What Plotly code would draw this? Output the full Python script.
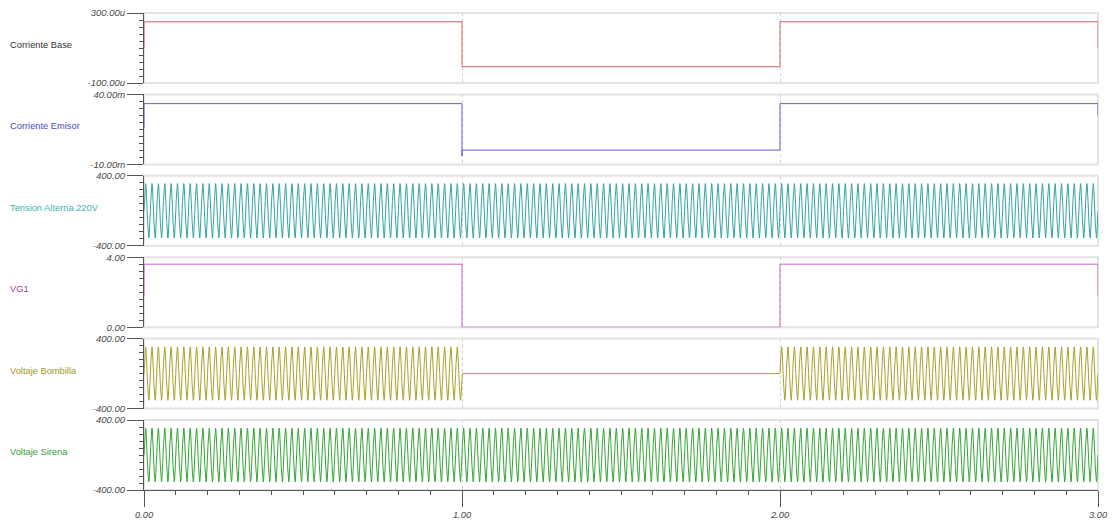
import numpy as np
import plotly.graph_objects as go

# ---------------- data (time in seconds) ----------------
base_t = [0, 0, 1, 1, 2, 2, 3, 3]
base_uA = [100, 250, 250, -7, -7, 250, 250, 100]

emisor_t = [0, 0, 1, 1, 1, 2, 2, 3, 3]
emisor_mA = [16, 33.4, 33.4, -4, 0.2, 0.2, 33.4, 33.4, 25]

vg1_t = [0, 0, 1, 1, 2, 2, 3, 3]
vg1_V = [1.8, 3.6, 3.6, 0, 0, 3.6, 3.6, 1.8]

# one cycle of samples for each AC signal (peaks)
tension_cycle = [0, 119, 220, 287, 311, 287, 220, 119,
                 0, -119, -220, -287, -311, -287, -220, -119]
bombilla_cycle = [0, 117, 216, 282, 305, 282, 216, 117,
                  0, -117, -216, -282, -305, -282, -216, -117]
sirena_cycle = [0, 117, 217, 284, 307, 284, 217, 117,
                0, -117, -217, -284, -307, -284, -217, -117]
cycles_per_second = 50
bombilla_on = [1, 0, 1]          # lamp on / off in each second
duration = 3

labels = ["Corriente Base", "Corriente Emisor", "Tension Alterna 220V",
          "VG1", "Voltaje Bombilla", "Voltaje Sirena"]
y_ranges = [[-100, 300], [-10, 40], [-400, 400], [0, 4], [-400, 400], [-400, 400]]
y_ticktext = [["-100.00u", "300.00u"], ["-10.00m", "40.00m"], ["-400.00", "400.00"],
              ["0.00", "4.00"], ["-400.00", "400.00"], ["-400.00", "400.00"]]
x_tickvals = [0, 1, 2, 3]
x_ticktext = ["0.00", "1.00", "2.00", "3.00"]

label_colors = ["#333333", "#4b4bb5", "#45b0b0", "#a43aa4", "#a09a28", "#35a035"]
line_colors = ["#d06060", "#6060cc", "#35a3a3", "#c565c5", "#a8a22a", "#35a535"]

# ---------------- build AC series ----------------
n_cyc = cycles_per_second * duration
spc = len(tension_cycle)
ac_t = np.linspace(0, duration, n_cyc * spc + 1)
tension = np.append(np.tile(tension_cycle, n_cyc), 0)
sirena = np.append(np.tile(sirena_cycle, n_cyc), 0)
bombilla = np.append(np.concatenate(
    [np.tile(bombilla_cycle, cycles_per_second) * on for on in bombilla_on]), 0)

series = [(base_t, base_uA), (emisor_t, emisor_mA), (ac_t, tension),
          (vg1_t, vg1_V), (ac_t, bombilla), (ac_t, sirena)]

# ---------------- figure ----------------
W, H = 1115, 524
ml, mr, mt, mb = 144, 17, 13, 34
plot_h = H - mt - mb
panel_h = 70 / plot_h
gap = (1 - 6 * panel_h) / 5

FONT = "Liberation Sans, Arial, sans-serif"
AXC = "#555555"
TXT = "#484848"

fig = go.Figure()
layout = dict(
    width=W, height=H, autosize=False,
    margin=dict(l=ml, r=mr, t=mt, b=mb, autoexpand=False),
    paper_bgcolor="white", plot_bgcolor="white",
    showlegend=False,
    font=dict(family=FONT, size=9, color=TXT),
)
shapes = []
annotations = []

for i in range(6):
    k = i + 1
    sfx = "" if k == 1 else str(k)
    top = 1 - i * (panel_h + gap)
    bot = top - panel_h
    lo, hi = y_ranges[i]
    t, v = series[i]
    fig.add_trace(go.Scatter(x=t, y=v, mode="lines", xaxis="x" + sfx, yaxis="y" + sfx,
                             line=dict(color=line_colors[i], width=1), hoverinfo="skip"))

    xa = dict(domain=[0, 1], range=[0, duration], anchor="y" + sfx, automargin=False,
              showgrid=True, griddash="dot", gridcolor="#d2d2d2", gridwidth=1,
              zeroline=False, fixedrange=True)
    if k < 6:
        xa.update(tickvals=[1, 2], showticklabels=False, ticks="", showline=False,
                  matches="x6")
    else:
        xa.update(tickvals=x_tickvals, ticktext=x_ticktext, ticks="outside",
                  ticklen=16, tickcolor=AXC, tickwidth=1,
                  showline=True, linecolor=AXC, linewidth=1,
                  tickfont=dict(family=FONT, size=9.3, color=TXT, style="italic"),
                  minor=dict(tickvals=list(np.round(np.arange(0, duration + 0.001, 0.1), 2)),
                             ticks="outside", ticklen=4, tickcolor=AXC, showgrid=False))
    layout["xaxis" + sfx] = xa

    ya = dict(domain=[bot, top], range=[lo, hi], anchor="x" + sfx, automargin=False,
              tickvals=[lo, hi], ticktext=y_ticktext[i], ticks="outside",
              ticklen=16, tickcolor=AXC, tickwidth=1,
              showline=True, linecolor=AXC, linewidth=1,
              showgrid=False, zeroline=False, fixedrange=True,
              tickfont=dict(family=FONT, size=9.5, color=TXT, style="italic"),
              minor=dict(tickvals=list(np.linspace(lo, hi, 11)), ticks="outside",
                         ticklen=4, tickcolor=AXC, showgrid=False))
    layout["yaxis" + sfx] = ya

    # overlay axis for the medium middle tick
    layout["yaxis" + str(6 + k)] = dict(
        overlaying="y" + sfx, range=[lo, hi], anchor="x" + sfx, side="left",
        automargin=False,
        tickvals=[(lo + hi) / 2], ticks="outside", ticklen=8, tickcolor=AXC,
        showticklabels=False, showline=False, showgrid=False, zeroline=False,
        fixedrange=True)

    # light panel frame
    shapes.append(dict(type="rect", xref="x" + sfx + " domain", yref="y" + sfx + " domain",
                       x0=0, x1=1, y0=0, y1=1, layer="below",
                       line=dict(color="#e3e3e3", width=2)))

    annotations.append(dict(
        text=labels[i], xref="paper", yref="paper",
        x=(8 - ml) / (W - ml - mr), y=(top + bot) / 2 + 3 / plot_h,
        xanchor="left", yanchor="middle", showarrow=False,
        font=dict(family=FONT, size=9.3, color=label_colors[i])))

# overlay x axis for medium ticks at half seconds
layout["xaxis13"] = dict(overlaying="x6", anchor="y6", range=[0, duration], side="bottom",
                         automargin=False,
                         tickvals=[0.5, 1.5, 2.5], ticks="outside", ticklen=8,
                         tickcolor=AXC, showticklabels=False, showline=False,
                         showgrid=False, zeroline=False, fixedrange=True)

layout["shapes"] = shapes
layout["annotations"] = annotations
fig.update_layout(**layout)
fig.write_html("out.html",
               config={"displayModeBar": False, "staticPlot": True},
               post_script="document.body.style.margin='0';document.body.style.overflow='hidden';")
